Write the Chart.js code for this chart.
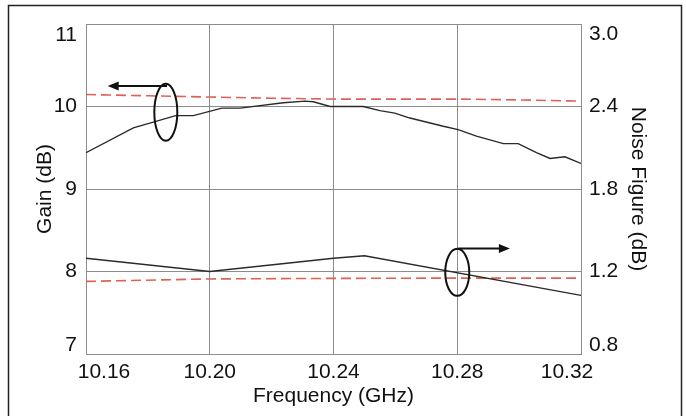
<!DOCTYPE html>
<html>
<head>
<meta charset="utf-8">
<script src="https://cdn.jsdelivr.net/npm/chart.js@4.4.1/dist/chart.umd.min.js"></script>
<style>
  html, body { margin: 0; padding: 0; background: #fff; }
  #wrap { width: 686px; height: 416px; position: relative; }
</style>
</head>
<body>
<div id="wrap"><canvas id="c" width="686" height="416"></canvas></div>
<script>
// ---- data ----
const freqTicks = [10.16, 10.20, 10.24, 10.28, 10.32];
const gainTicks = [7, 8, 9, 10, 11];
const nfTickValues = [0.6, 1.2, 1.8, 2.4, 3.0];
const nfTickLabels = ["0.8", "1.2", "1.8", "2.4", "3.0"];

const gainMeasFreq = [10.16, 10.1753, 10.189, 10.1947, 10.2039, 10.2098, 10.2238, 10.2308, 10.2335, 10.2389, 10.2496, 10.255, 10.2598, 10.2647, 10.2755, 10.2803, 10.2862, 10.2949, 10.2997, 10.3056, 10.31, 10.3148, 10.32];
const gainMeas = [9.44, 9.74, 9.89, 9.89, 9.98, 9.98, 10.045, 10.065, 10.057, 10.0, 10.0, 9.95, 9.92, 9.86, 9.76, 9.72, 9.64, 9.55, 9.55, 9.44, 9.37, 9.39, 9.31];

const gainSimFreq = [10.16, 10.18, 10.20, 10.22, 10.24, 10.26, 10.28, 10.30, 10.32];
const gainSim = [10.145, 10.13, 10.115, 10.10, 10.09, 10.09, 10.09, 10.08, 10.065];

const nfMeasFreq = [10.16, 10.20, 10.24, 10.25, 10.32];
const nfMeas = [1.296, 1.2, 1.296, 1.314, 1.026];

const nfSimFreq = [10.16, 10.20, 10.24, 10.28, 10.32];
const nfSim = [1.128, 1.146, 1.15, 1.152, 1.152];

const pts = (xs, ys) => xs.map((x, i) => ({ x: x, y: ys[i] }));

const FONT = "'Liberation Sans', Arial, Helvetica, sans-serif";
const TXT = '#111';
const GRID = '#8c8c8c';

// nudge the end tick labels inward, as in the reference
const edgeLabels = {
  id: 'edgeLabels',
  beforeDraw(chart) {
    const shift = { x: [18, -14], yGain: [-9, 11], yNF: [-9, 10] };
    Object.keys(shift).forEach(id => {
      const sc = chart.scales[id];
      if (!sc || !sc.getLabelItems) return;
      const items = sc.getLabelItems();
      if (!items || !items.length) return;
      const first = items[0], last = items[items.length - 1];
      const k = sc.isHorizontal() ? 0 : 1;
      if (first.options && first.options.translation) first.options.translation[k] += shift[id][0];
      if (last.options && last.options.translation) last.options.translation[k] += shift[id][1];
    });
  }
};

// annotation marks (ellipses with arrows), placed via scales
const markers = {
  id: 'markers',
  afterDatasetsDraw(chart) {
    const ctx = chart.ctx;
    const xs = chart.scales.x, yl = chart.scales.yGain;
    ctx.save();
    ctx.strokeStyle = '#111';
    ctx.fillStyle = '#111';
    ctx.lineWidth = 2;
    function ellipse(fx, gy, rx, ry) {
      ctx.beginPath();
      ctx.ellipse(xs.getPixelForValue(fx), yl.getPixelForValue(gy), rx, ry, 0, 0, Math.PI * 2);
      ctx.stroke();
    }
    function arrow(f0, f1, gy) {
      const x0 = xs.getPixelForValue(f0), x1 = xs.getPixelForValue(f1), y = yl.getPixelForValue(gy);
      const dir = Math.sign(x1 - x0);
      ctx.beginPath();
      ctx.moveTo(x0, y);
      ctx.lineTo(x1 - dir * 8, y);
      ctx.stroke();
      ctx.beginPath();
      ctx.moveTo(x1, y);
      ctx.lineTo(x1 - dir * 11, y - 4.5);
      ctx.lineTo(x1 - dir * 11, y + 4.5);
      ctx.closePath();
      ctx.fill();
    }
    ellipse(10.1858, 9.93, 11.5, 28.5);
    arrow(10.1862, 10.167, 10.25);
    ellipse(10.28, 7.99, 12, 23.5);
    arrow(10.2803, 10.297, 8.28);
    ctx.restore();
  },
  afterDraw(chart) {
    const ctx = chart.ctx;
    ctx.save();
    ctx.strokeStyle = '#222';
    ctx.lineWidth = 1.5;
    ctx.strokeRect(8.5, 5.5, 673, 420);
    ctx.restore();
  }
};

new Chart(document.getElementById('c'), {
  type: 'line',
  data: {
    datasets: [
      { data: pts(gainMeasFreq, gainMeas), yAxisID: 'yGain', borderColor: '#2a2a2a', borderWidth: 1.4, pointRadius: 0, tension: 0, fill: false },
      { data: pts(gainSimFreq, gainSim), yAxisID: 'yGain', borderColor: '#e06055', borderWidth: 1.6, borderDash: [10, 5], pointRadius: 0, tension: 0, fill: false },
      { data: pts(nfMeasFreq, nfMeas), yAxisID: 'yNF', borderColor: '#2a2a2a', borderWidth: 1.4, pointRadius: 0, tension: 0, fill: false },
      { data: pts(nfSimFreq, nfSim), yAxisID: 'yNF', borderColor: '#e06055', borderWidth: 1.6, borderDash: [10, 5], pointRadius: 0, tension: 0, fill: false }
    ]
  },
  options: {
    responsive: false,
    animation: false,
    devicePixelRatio: 1,
    layout: { padding: { left: 29, right: 32, top: 24, bottom: 3 } },
    plugins: { legend: { display: false }, tooltip: { enabled: false } },
    scales: {
      x: {
        type: 'linear', min: 10.16, max: 10.32,
        afterBuildTicks: a => { a.ticks = freqTicks.map(v => ({ value: v })); },
        afterFit: a => { a.height = 59; },
        grid: { color: GRID, lineWidth: 1, drawTicks: false },
        border: { color: GRID, width: 1 },
        ticks: { color: TXT, font: { family: FONT, size: 21 }, padding: 6, maxRotation: 0, callback: v => v.toFixed(2) },
        title: { display: true, text: 'Frequency (GHz)', color: TXT, font: { family: FONT, size: 21 }, padding: { top: 2, bottom: 4 } }
      },
      yGain: {
        type: 'linear', position: 'left', min: 7, max: 11,
        afterBuildTicks: a => { a.ticks = gainTicks.map(v => ({ value: v })); },
        afterFit: a => { a.width = 57; },
        grid: { color: GRID, lineWidth: 1, drawTicks: false },
        border: { color: GRID, width: 1 },
        ticks: { color: TXT, font: { family: FONT, size: 21 }, padding: 9 },
        title: { display: true, text: 'Gain (dB)', color: TXT, font: { family: FONT, size: 21 }, padding: { top: 4, bottom: 4 } }
      },
      yNF: {
        type: 'linear', position: 'right', min: 0.6, max: 3.0,
        afterBuildTicks: a => { a.ticks = nfTickValues.map(v => ({ value: v })); },
        afterFit: a => { a.width = 73; },
        grid: { display: false, drawTicks: false },
        border: { color: GRID, width: 1 },
        ticks: { color: TXT, font: { family: FONT, size: 21 }, padding: 8, callback: (v, i) => nfTickLabels[i] },
        title: { display: true, text: 'Noise Figure (dB)', color: TXT, font: { family: FONT, size: 21 }, padding: { top: 4, bottom: 4 } }
      }
    }
  },
  plugins: [edgeLabels, markers]
});
</script>
</body>
</html>
